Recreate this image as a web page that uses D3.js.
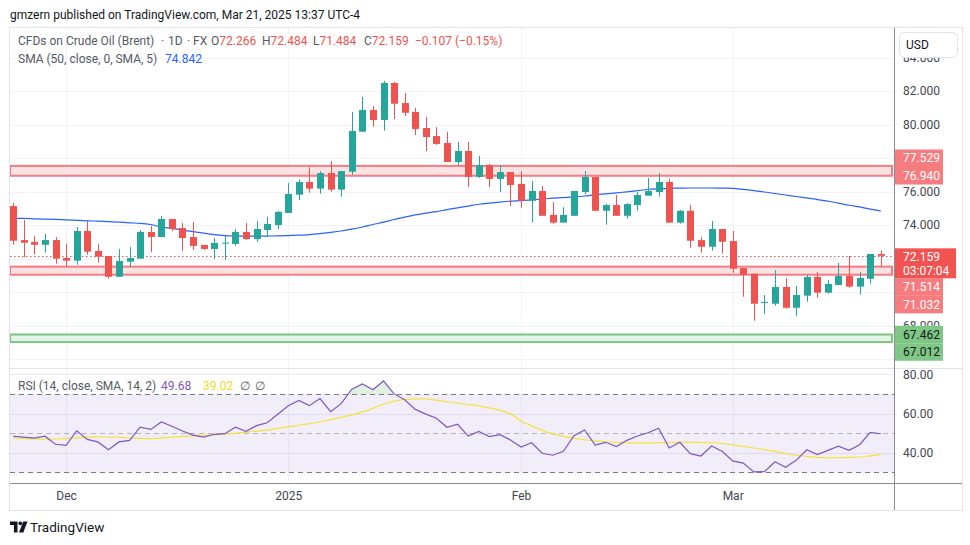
<!DOCTYPE html>
<html><head><meta charset="utf-8">
<script src="https://cdn.jsdelivr.net/npm/d3@7"></script>
<style>html,body{margin:0;padding:0;background:#fff;} svg{display:block;font-family:Roboto,"Liberation Sans",sans-serif;}</style>
</head><body><svg id="c" width="970" height="545"></svg>
<script>
// ---------------- DATA ----------------
const dates = [
"2024-11-25","2024-11-26","2024-11-27","2024-11-28","2024-11-29",
"2024-12-02","2024-12-03","2024-12-04","2024-12-05","2024-12-06","2024-12-09","2024-12-10","2024-12-11","2024-12-12","2024-12-13",
"2024-12-16","2024-12-17","2024-12-18","2024-12-19","2024-12-20","2024-12-23","2024-12-24","2024-12-26","2024-12-27","2024-12-30","2024-12-31",
"2025-01-02","2025-01-03","2025-01-06","2025-01-07","2025-01-08","2025-01-09","2025-01-10","2025-01-13","2025-01-14","2025-01-15","2025-01-16","2025-01-17",
"2025-01-20","2025-01-21","2025-01-22","2025-01-23","2025-01-24","2025-01-27","2025-01-28","2025-01-29","2025-01-30","2025-01-31",
"2025-02-03","2025-02-04","2025-02-05","2025-02-06","2025-02-07","2025-02-10","2025-02-11","2025-02-12","2025-02-13","2025-02-14",
"2025-02-17","2025-02-18","2025-02-19","2025-02-20","2025-02-21","2025-02-24","2025-02-25","2025-02-26","2025-02-27","2025-02-28",
"2025-03-03","2025-03-04","2025-03-05","2025-03-06","2025-03-07","2025-03-10","2025-03-11","2025-03-12","2025-03-13","2025-03-14",
"2025-03-17","2025-03-18","2025-03-19","2025-03-20","2025-03-21"];
const open  = [75.13,73.10,72.99,72.82,73.10,72.03,71.87,73.64,72.45,72.15,70.91,71.81,71.99,73.58,73.28,74.36,73.82,73.28,72.81,72.57,72.93,72.87,73.58,73.16,73.70,74.00,74.72,75.81,76.57,76.17,77.10,76.11,77.18,79.57,80.87,80.27,82.48,81.28,80.75,79.79,79.31,78.90,77.76,78.42,76.87,77.58,76.75,77.16,76.45,75.45,76.03,74.60,74.14,74.55,75.97,76.87,74.85,75.19,74.55,75.19,75.75,75.97,76.57,74.14,74.85,73.10,72.70,73.76,73.04,71.43,71.09,69.36,69.30,70.30,69.06,69.78,70.90,69.96,70.42,70.96,70.32,70.79,72.266];
const high  = [75.33,74.30,73.34,73.46,73.28,72.87,73.88,74.24,72.87,72.15,72.57,72.69,73.70,73.94,74.54,74.36,74.12,74.18,72.81,73.22,73.34,73.76,74.12,74.24,74.48,74.84,76.51,76.73,77.44,77.22,77.82,77.22,80.75,81.64,81.10,82.60,82.54,81.88,80.99,80.45,79.85,79.55,78.96,78.96,78.12,77.64,77.58,77.16,77.22,76.63,76.33,75.37,75.07,76.03,77.22,76.87,75.25,75.79,75.31,75.97,76.81,77.10,76.75,74.90,75.21,73.28,74.24,73.76,73.64,71.43,71.09,69.82,71.31,70.84,70.36,71.01,71.19,70.72,71.73,72.15,71.19,72.27,72.484];
const low   = [72.82,72.07,72.23,72.35,71.69,71.51,71.63,72.23,71.75,70.79,70.91,71.49,71.99,72.39,73.28,73.64,72.45,72.51,72.51,71.97,71.91,72.75,73.10,72.99,73.34,73.76,74.72,75.49,75.93,75.87,75.99,75.69,76.99,79.57,79.87,79.63,80.33,80.51,79.37,78.42,78.78,77.76,77.58,76.27,76.81,76.27,75.97,75.13,75.03,74.14,74.55,74.08,74.14,74.55,75.85,74.85,74.02,74.55,74.38,74.85,75.75,75.69,74.14,74.08,72.64,72.35,72.47,72.29,71.15,69.72,68.29,68.70,69.18,69.00,68.58,69.42,69.66,69.90,70.42,70.26,69.84,70.50,71.484];
const close = [73.06,72.94,72.82,73.10,71.99,71.87,73.64,72.41,72.11,70.91,71.85,72.03,73.58,73.28,74.36,73.76,73.22,72.75,72.57,72.93,72.95,73.58,73.16,73.76,74.06,74.78,75.85,76.57,76.17,77.10,76.11,77.22,79.61,80.87,80.27,82.48,81.24,80.70,79.73,79.25,78.84,77.76,78.42,76.87,77.58,76.75,77.16,76.39,75.45,76.03,74.55,74.14,74.60,76.03,76.87,74.85,75.19,74.55,75.25,75.79,76.03,76.57,74.14,74.85,73.06,72.70,73.76,73.00,71.39,71.03,69.30,69.40,70.30,69.06,69.82,70.90,69.96,70.48,70.96,70.32,70.84,72.27,72.159];
const sma50 = [74.40,74.39,74.37,74.35,74.33,74.31,74.28,74.25,74.23,74.20,74.17,74.13,74.10,74.03,73.89,73.80,73.70,73.60,73.51,73.43,73.36,73.34,73.33,73.33,73.34,73.35,73.37,73.39,73.43,73.49,73.56,73.64,73.75,73.88,74.03,74.17,74.33,74.47,74.60,74.71,74.80,74.92,75.02,75.13,75.24,75.31,75.37,75.42,75.45,75.50,75.55,75.60,75.64,75.68,75.73,75.80,75.86,75.92,75.98,76.05,76.12,76.16,76.19,76.20,76.21,76.21,76.21,76.20,76.19,76.13,76.05,75.97,75.88,75.79,75.70,75.62,75.52,75.42,75.31,75.18,75.08,74.95,74.842];
const rsi = [48.4,47.9,47.4,48.4,44.3,43.8,51.2,46.8,45.5,41.5,45.5,46.3,53.0,51.9,55.7,53.5,51.1,49.0,48.0,49.4,49.7,53.0,50.9,53.8,55.3,59.6,64.0,66.7,64.0,67.6,60.9,65.0,72.4,75.1,72.1,76.6,70.0,67.0,62.1,59.7,57.6,53.0,54.5,48.5,50.9,48.2,49.2,46.5,42.9,45.1,39.7,38.7,40.7,48.7,51.6,43.9,45.3,43.1,46.3,48.5,50.2,52.5,42.4,45.3,39.5,38.3,43.4,40.7,35.8,34.7,30.2,30.3,35.4,32.6,36.1,41.5,39.0,41.2,43.3,41.2,44.1,50.4,49.68];
const rsiSma = [47.6,47.3,47.0,46.9,47.0,47.3,47.6,47.9,48.1,48.0,47.8,47.5,47.3,47.2,47.4,47.9,48.3,48.6,48.9,49.1,49.5,49.9,50.5,51.0,51.5,52.4,53.2,54.0,54.8,55.8,56.9,58.0,59.3,60.8,62.7,64.7,66.3,67.2,67.5,67.4,66.8,66.0,65.3,64.6,63.9,62.9,61.6,59.8,56.2,53.7,51.4,49.6,48.3,47.3,46.6,46.0,45.6,45.3,45.1,45.0,45.0,45.1,45.2,45.3,45.3,45.2,45.1,44.8,44.0,43.2,42.4,41.6,40.7,39.6,38.7,38.1,37.6,37.4,37.5,37.6,37.8,38.4,39.02];
const priceTicks = [66,68,70,72,74,76,78,80,82,84];
const rsiGridTicks = [40,60,80];
const rsiBands = [70,50,30];
const zoneTop    = [77.529, 71.514, 67.462];
const zoneBottom = [76.940, 71.032, 67.012];
const zoneKind   = ["resist","resist","support"];
const lastPrice = 72.159, countdown = "03:07:04";
const headerText = "gmzern published on TradingView.com, Mar 21, 2025 13:37 UTC-4";
const symbolParts = ["CFDs on Crude Oil (Brent)", "·", "1D", "·", "FX"];
const ohlcKeys = ["O","H","L","C"];
const ohlcVals = ["72.266","72.484","71.484","72.159"];
const changeText = "−0.107 (−0.15%)";
const smaLegend = "SMA (50, close, 0, SMA, 5)", smaLast = "74.842";
const rsiLegend = "RSI (14, close, SMA, 14, 2)", rsiLast = "49.68", rsiSmaLast = "39.02";

// ---------------- LAYOUT ----------------
const svg = d3.select("#c");
const N = dates.length;
const L = 10, R = 894, OUTR = 962;
const mainTop = 28, mainBot = 368, rsiTop = 369, rsiBot = 483, axBot = 510;
const UP = "#26a69a", DOWN = "#ef5350";
const dts = dates.map(d3.timeParse("%Y-%m-%d"));

const x = d3.scaleLinear().domain([0, N - 1]).range([13.2, 880.8]);
const y = d3.scaleLinear().domain([68, 82]).range([325.5, 91]);
const yR = d3.scaleLinear().domain([40, 80]).range([452.7, 374.3]);

svg.append("rect").attr("width", 970).attr("height", 545).attr("fill", "#fff");
const defs = svg.append("defs");
defs.append("clipPath").attr("id", "cm").append("rect").attr("x", L).attr("y", mainTop).attr("width", R - L).attr("height", mainBot - mainTop);
defs.append("clipPath").attr("id", "cr").append("rect").attr("x", L).attr("y", rsiTop).attr("width", R - L).attr("height", rsiBot - rsiTop);
defs.append("clipPath").attr("id", "cob").append("rect").attr("x", L).attr("y", rsiTop).attr("width", R - L).attr("height", yR(70) - rsiTop);
defs.append("clipPath").attr("id", "cos").append("rect").attr("x", L).attr("y", yR(30)).attr("width", R - L).attr("height", rsiBot - yR(30));

// header
svg.append("text").attr("x", 10).attr("y", 18.5).attr("font-size", 12).attr("fill", "#131722").text(headerText);

// outer frame
svg.append("rect").attr("x", L - 0.5).attr("y", mainTop - 0.5).attr("width", OUTR - L + 1).attr("height", axBot - mainTop + 1)
  .attr("fill", "none").attr("stroke", "#e0e3eb");

// month ticks
const tickIdx = d3.range(1, N).filter(i => dts[i].getMonth() !== dts[i - 1].getMonth());
const tickLab = i => dts[i].getMonth() === 0 ? d3.timeFormat("%Y")(dts[i]) : d3.timeFormat("%b")(dts[i]);

// grids
const gGrid = svg.append("g");
gGrid.selectAll(".hg").data(priceTicks).join("line").attr("x1", L).attr("x2", R)
  .attr("y1", d => Math.round(y(d)) + 0.5).attr("y2", d => Math.round(y(d)) + 0.5).attr("stroke", "#f0f3fa").attr("clip-path", "url(#cm)");
gGrid.selectAll(".vg").data(tickIdx).join("line").attr("x1", d => Math.round(x(d)) + 0.5).attr("x2", d => Math.round(x(d)) + 0.5)
  .attr("y1", mainTop).attr("y2", rsiBot).attr("stroke", "#f0f3fa");

svg.append("line").attr("x1", L).attr("x2", OUTR).attr("y1", mainBot + 0.5).attr("y2", mainBot + 0.5).attr("stroke", "#e0e3eb");

// ---------- main pane ----------
const gMain = svg.append("g").attr("clip-path", "url(#cm)");
const zoneData = zoneTop.map((t, k) => ({ t, b: zoneBottom[k], kind: zoneKind[k] }));
gMain.selectAll(".zone").data(zoneData).join("rect")
  .attr("x", L).attr("width", 892 - L)
  .attr("y", d => y(d.t)).attr("height", d => y(d.b) - y(d.t))
  .attr("fill", d => d.kind === "support" ? "#e3f3e5" : "#fde2e3")
  .attr("stroke", d => d.kind === "support" ? "#7cc580" : "#f47c80").attr("stroke-width", 2);

gMain.append("path").datum(sma50).attr("fill", "none").attr("stroke", "#2962ff").attr("stroke-width", 1.2)
  .attr("d", d3.line().x((d, i) => x(i)).y(d => y(d)).curve(d3.curveMonotoneX));

gMain.append("line").attr("x1", L).attr("x2", R).attr("y1", Math.round(y(lastPrice)) + 0.5).attr("y2", Math.round(y(lastPrice)) + 0.5)
  .attr("stroke", DOWN).attr("stroke-dasharray", "1.5,2.5");

const bars = d3.range(N).map(i => ({ i, o: open[i], h: high[i], l: low[i], c: close[i] }));
const gC = gMain.append("g");
gC.selectAll(".wick").data(bars).join("line")
  .attr("x1", d => Math.round(x(d.i)) + 0.5).attr("x2", d => Math.round(x(d.i)) + 0.5)
  .attr("y1", d => y(d.h)).attr("y2", d => y(d.l))
  .attr("stroke", d => d.c >= d.o ? UP : DOWN).attr("stroke-width", 1);
gC.selectAll(".body").data(bars).join("rect")
  .attr("x", d => Math.round(x(d.i)) - 3).attr("width", 7)
  .attr("y", d => y(Math.max(d.o, d.c))).attr("height", d => Math.max(1, Math.abs(y(d.o) - y(d.c))))
  .attr("fill", d => d.c >= d.o ? UP : DOWN);

// ---------- RSI pane ----------
const gR = svg.append("g").attr("clip-path", "url(#cr)");
gR.selectAll(".rg").data(rsiGridTicks).join("line").attr("x1", L).attr("x2", R)
  .attr("y1", d => Math.round(yR(d)) + 0.5).attr("y2", d => Math.round(yR(d)) + 0.5).attr("stroke", "#ede9f5");
gR.append("rect").attr("x", L).attr("width", R - L).attr("y", yR(70)).attr("height", yR(30) - yR(70)).attr("fill", "rgba(126,87,194,0.1)");
gR.selectAll(".band").data(rsiBands).join("line").attr("x1", L).attr("x2", R)
  .attr("y1", d => Math.round(yR(d)) + 0.5).attr("y2", d => Math.round(yR(d)) + 0.5)
  .attr("stroke", "#787b86").attr("stroke-opacity", d => d === 50 ? 0.5 : 1).attr("stroke-dasharray", "5,4");
gR.append("path").datum(rsi).attr("d", d3.area().x((d, i) => x(i)).y0(yR(70)).y1(d => yR(d)))
  .attr("fill", "rgba(76,175,80,0.18)").attr("clip-path", "url(#cob)");
gR.append("path").datum(rsi).attr("d", d3.area().x((d, i) => x(i)).y0(yR(30)).y1(d => yR(d)))
  .attr("fill", "rgba(242,54,69,0.18)").attr("clip-path", "url(#cos)");
gR.append("path").datum(rsiSma).attr("fill", "none").attr("stroke", "#f5e23a").attr("stroke-width", 1.2)
  .attr("d", d3.line().x((d, i) => x(i)).y(d => yR(d)).curve(d3.curveMonotoneX));
gR.append("path").datum(rsi).attr("fill", "none").attr("stroke", "#7e57c2").attr("stroke-width", 1.2)
  .attr("d", d3.line().x((d, i) => x(i)).y(d => yR(d)));

// ---------- right-side price label layout ----------
const LH = 17.5;
const liveTop = y(lastPrice) - 7.5, liveBot = liveTop + 30;
const lab = [];
zoneTop.forEach((t, k) => { lab.push({ v: t, kind: zoneKind[k] }); lab.push({ v: zoneBottom[k], kind: zoneKind[k] }); });
const above = lab.filter(d => d.v > lastPrice).sort((a, b) => a.v - b.v);
const below = lab.filter(d => d.v < lastPrice).sort((a, b) => b.v - a.v);
let lim = liveTop;
above.forEach(d => { let c = y(d.v); if (c + LH / 2 > lim) c = lim - LH / 2; d.cy = c; lim = c - LH / 2; });
lim = liveBot;
below.forEach(d => { let c = y(d.v); if (c - LH / 2 < lim) c = lim + LH / 2; d.cy = c; lim = c + LH / 2; });
const covered = [[liveTop, liveBot]].concat(lab.map(d => [d.cy - LH / 2, d.cy + LH / 2])).sort((a, b) => a[0] - b[0]);
// a tick label is dropped when more than half of it sits under a label box
const hidden = t => covered.some(([a, b]) => Math.min(b, y(t) + 6) - Math.max(a, y(t) - 6) > 6);
const visTicks = priceTicks.filter(t => !hidden(t));
// clip for axis labels: only the free (uncovered) strips of the price scale
const freeStrips = [];
let cur = mainTop;
covered.forEach(([a, b]) => { if (a > cur) freeStrips.push([cur, a]); cur = Math.max(cur, b); });
if (cur < mainBot) freeStrips.push([cur, mainBot]);
const cax = defs.append("clipPath").attr("id", "cax");
freeStrips.forEach(([a, b]) => cax.append("rect").attr("x", R).attr("y", a).attr("width", OUTR - R).attr("height", b - a));

// ---------- axes ----------
svg.append("line").attr("x1", R + 0.5).attr("x2", R + 0.5).attr("y1", mainTop).attr("y2", axBot).attr("stroke", "#8a8d96");
svg.append("line").attr("x1", L).attr("x2", OUTR).attr("y1", rsiBot + 0.5).attr("y2", rsiBot + 0.5).attr("stroke", "#8a8d96");

const axP = svg.append("g").attr("clip-path", "url(#cax)").append("g").attr("transform", `translate(${R + 9},0)`)
  .call(d3.axisRight(y).tickValues(visTicks).tickFormat(d3.format(".3f")).tickSize(0).tickPadding(0));
axP.select(".domain").remove();
axP.selectAll("text").attr("font-size", 12).attr("fill", "#434651").attr("font-family", "Roboto,sans-serif");

const axR = svg.append("g").attr("transform", `translate(${R + 9},0)`)
  .call(d3.axisRight(yR).tickValues(rsiGridTicks).tickFormat(d3.format(".2f")).tickSize(0).tickPadding(0));
axR.select(".domain").remove();
axR.selectAll("text").attr("font-size", 12).attr("fill", "#434651").attr("font-family", "Roboto,sans-serif");

const axT = svg.append("g").attr("transform", `translate(0,${rsiBot})`)
  .call(d3.axisBottom(x).tickValues(tickIdx).tickFormat(tickLab).tickSize(0).tickPadding(8));
axT.select(".domain").remove();
axT.selectAll("text").attr("font-size", 12).attr("fill", "#434651").attr("font-family", "Roboto,sans-serif");

// USD button
svg.append("rect").attr("x", 899.5).attr("y", 32.5).attr("width", 58).attr("height", 25).attr("rx", 5)
  .attr("fill", "#fff").attr("stroke", "#e0e3eb");
svg.append("text").attr("x", 906).attr("y", 49).attr("font-size", 12).attr("fill", "#131722").text("USD");

// label boxes
const gL = svg.append("g").attr("font-size", 12).attr("font-family", "Roboto,sans-serif");
lab.forEach(d => {
  gL.append("rect").attr("x", R + 1).attr("y", d.cy - LH / 2).attr("width", 48).attr("height", LH)
    .attr("fill", d.kind === "support" ? "#7fc784" : "#f77c80");
  gL.append("text").attr("x", R + 9).attr("y", d.cy).attr("dy", "0.35em")
    .attr("fill", d.kind === "support" ? "#131722" : "#fff").text(d3.format(".3f")(d.v));
});
gL.append("rect").attr("x", R + 1).attr("y", liveTop).attr("width", 61).attr("height", 30).attr("fill", "#f05350");
gL.append("text").attr("x", R + 9).attr("y", liveTop + 8.5).attr("dy", "0.35em").attr("fill", "#fff").text(d3.format(".3f")(lastPrice));
gL.append("text").attr("x", R + 9).attr("y", liveTop + 22.5).attr("dy", "0.35em").attr("fill", "#fff").text(countdown);

// ---------- legends ----------
const GREY = "#555a66";
const gLeg = svg.append("g").attr("font-size", 12).attr("fill", GREY);
const symX = [18, 161, 168, 187, 193];
symbolParts.forEach((s, k) => gLeg.append("text").attr("x", symX[k]).attr("y", 45).text(s));
const keyX = [211, 262, 313, 364];
ohlcKeys.forEach((kk, k) => {
  const t = gLeg.append("text").attr("x", keyX[k]).attr("y", 45);
  t.append("tspan").text(kk);
  t.append("tspan").attr("fill", DOWN).text(ohlcVals[k]);
});
gLeg.append("text").attr("x", 415).attr("y", 45).attr("fill", DOWN).text(changeText);

gLeg.append("text").attr("x", 18).attr("y", 62.5).text(smaLegend);
gLeg.append("text").attr("x", 165).attr("y", 62.5).attr("fill", "#2962ff").text(smaLast);

gLeg.append("text").attr("x", 18).attr("y", 389.5).text(rsiLegend);
gLeg.append("text").attr("x", 161).attr("y", 389.5).attr("fill", "#7e57c2").text(rsiLast);
gLeg.append("text").attr("x", 203).attr("y", 389.5).attr("fill", "#f2d92c").text(rsiSmaLast);
gLeg.append("text").attr("x", 240).attr("y", 389.5).text("∅");
gLeg.append("text").attr("x", 255).attr("y", 389.5).text("∅");

// ---------- TradingView logo ----------
const gLogo = svg.append("g").attr("fill", "#131722");
gLogo.append("path").attr("d", "M10,521.5h7.5v11h-3.6v-7.4h-3.9z");
gLogo.append("circle").attr("cx", 20.3).attr("cy", 523.3).attr("r", 1.9);
gLogo.append("path").attr("d", "M23.2,521.5h4.3l-4.2,11h-4.3z");
svg.append("text").attr("x", 30).attr("y", 532).attr("font-size", 13.5).attr("fill", "#131722").text("TradingView");
</script></body></html>
